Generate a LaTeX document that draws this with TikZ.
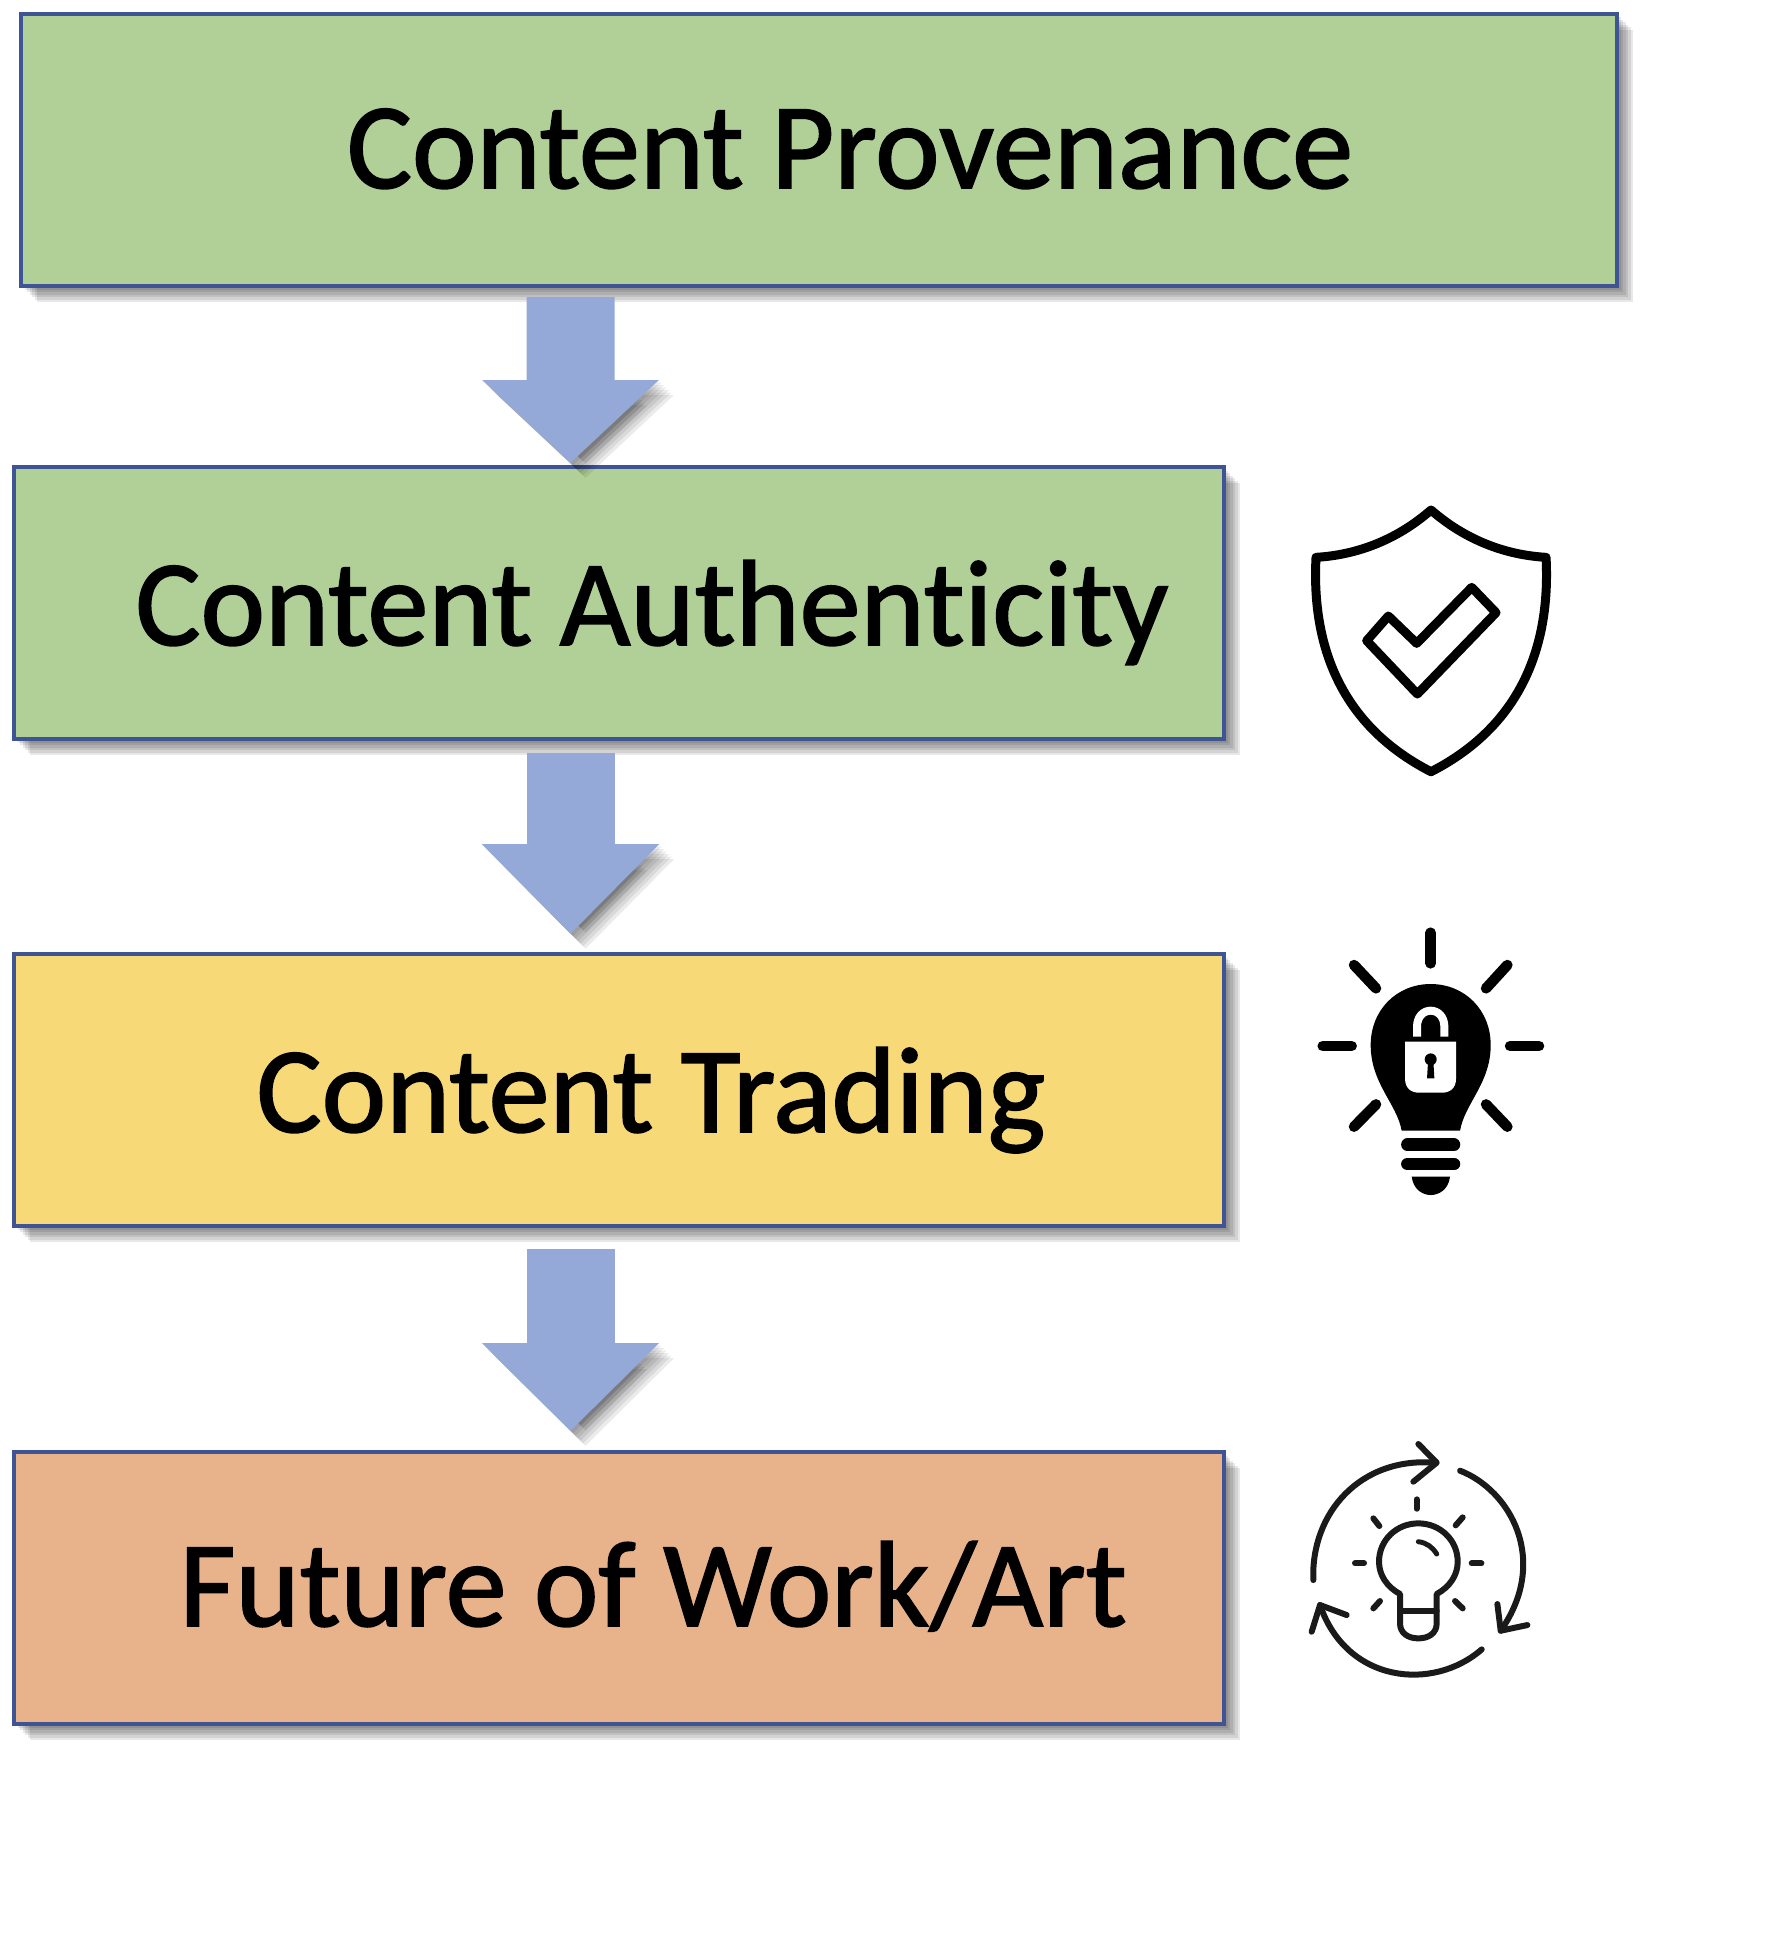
\documentclass[tikz,border=0pt]{standalone}
\usepackage{fontspec}
\setmainfont[Ligatures=NoCommon,FakeBold=1.4]{Carlito}
\usetikzlibrary{arrows.meta,positioning}
\definecolor{boxline}{HTML}{3E5494}
\definecolor{boxgreen}{HTML}{B1D097}
\definecolor{boxyellow}{HTML}{F8D977}
\definecolor{boxorange}{HTML}{E8B28A}
\definecolor{flowblue}{HTML}{94A9D8}
\definecolor{iconline}{HTML}{1A1A1A}

\begin{document}
\begin{tikzpicture}[
    boxlayer/.style={preaction={fill=black, draw=none, opacity=0.09, transform canvas={shift={(#1,-#1)}}}},
    arrowlayer/.style={preaction={draw=black, opacity=0.08, transform canvas={shift={(#1,-#1)}}}},
    flowbox/.style={draw=boxline, line width=0.09cm, minimum height=5.44cm, inner sep=0pt, outer sep=0pt,
        boxlayer=0.32, boxlayer=0.27, boxlayer=0.22, boxlayer=0.17, boxlayer=0.12, boxlayer=0.07},
    lbl/.style={anchor=base, inner sep=0pt, font=\fontsize{69.5}{80}\selectfont},
    flowarrow/.style={draw=flowblue, line width=1.76cm, -{Triangle[width=3.44cm,length=#1]},
        arrowlayer=0.3, arrowlayer=0.25, arrowlayer=0.2, arrowlayer=0.15, arrowlayer=0.1, arrowlayer=0.05},
    iconpen/.style={line width=0.18cm, line join=round, line cap=round}
]
\useasboundingbox (0,0) rectangle (35.8,-39.2);

% boxes
\node[flowbox, fill=boxgreen, minimum width=31.92cm, anchor=north west] (box1) at (0.42,-0.28) {};
\node[flowbox, fill=boxgreen, minimum width=24.2cm, below right=3.62cm and -0.14cm of box1.south west] (box2) {};
\node[flowbox, fill=boxyellow, minimum width=24.2cm, below=4.3cm of box2] (box3) {};
\node[flowbox, fill=boxorange, minimum width=24.2cm, below=4.52cm of box3] (box4) {};

% labels
\node[lbl, xshift=0.62cm, yshift=-0.76cm] (txt1) at (box1) {Content Provenance};
\node[lbl, xshift=0.66cm, yshift=-0.84cm] (txt2) at (box2) {Content Authenticity};
\node[lbl, xshift=0.64cm, yshift=-0.84cm] (txt3) at (box3) {Content Trading};
\node[lbl, xshift=0.68cm, yshift=-0.76cm] (txt4) at (box4) {Future of Work/Art};

% arrows
\draw[flowarrow=1.66cm] ([shift={(-4.97,-0.22)}]box1.south) -- ([shift={(-0.97,0.08)}]box2.north);
\draw[flowarrow=1.8cm] ([shift={(-0.97,-0.28)}]box2.south) -- ([shift={(-0.97,0.4)}]box3.north);
\draw[flowarrow=1.76cm] ([shift={(-0.97,-0.46)}]box3.south) -- ([shift={(-0.97,0.42)}]box4.north);

% shield
\begin{scope}[shift={(25.4,-9.6)}, x=0.006667cm, y=-0.006667cm]
\draw[iconpen] (483,90) .. controls (380,180) and (260,225) .. (138,232)
    .. controls (125,480) and (200,730) .. (483,875)
    .. controls (766,730) and (841,480) .. (828,232)
    .. controls (706,225) and (586,180) .. (483,90) -- cycle;
\draw[iconpen] (440,490) -- (355,408) -- (290,482) -- (442,642) -- (678,398) -- (605,322) -- cycle;
\end{scope}

% bulb with lock
\begin{scope}[shift={(25.8,-18.2)}, x=0.006667cm, y=-0.006667cm]
\draw[iconpen, line width=0.21cm] (422,68) -- (422,160);
\draw[iconpen, line width=0.21cm] (98,408) -- (185,408);
\draw[iconpen, line width=0.21cm] (660,408) -- (747,408);
\draw[iconpen, line width=0.21cm] (192,165) -- (258,235);
\draw[iconpen, line width=0.21cm] (652,165) -- (588,235);
\draw[iconpen, line width=0.21cm] (192,650) -- (258,583);
\draw[iconpen, line width=0.21cm] (652,650) -- (588,583);
\fill (335,662) .. controls (320,580) and (242,520) .. (242,405)
    .. controls (242,300) and (320,222) .. (422,222)
    .. controls (524,222) and (602,300) .. (602,405)
    .. controls (602,520) and (524,580) .. (510,662) -- cycle;
\draw[white, line width=0.16cm] (381,380) -- (381,350) .. controls (381,320) and (400,302) .. (422,302)
    .. controls (444,302) and (463,320) .. (463,350) -- (463,380);
\fill[white] (345,395) -- (498,395) -- (498,505) .. controls (498,535) and (480,548) .. (455,548)
    -- (388,548) .. controls (363,548) and (345,535) .. (345,505) -- cycle;
\fill (422,448) circle [x radius=18, y radius=18];
\fill (414,455) -- (430,455) -- (433,505) -- (411,505) -- cycle;
\draw[iconpen, line width=0.25cm] (352,704) -- (492,704);
\draw[iconpen, line width=0.25cm] (352,762) -- (492,762);
\fill (365,800) .. controls (370,840) and (400,855) .. (422,855)
    .. controls (445,855) and (475,840) .. (480,800) -- cycle;
\end{scope}

% bulb with cycle
\begin{scope}[shift={(25.8,-28.4)}, x=0.006667cm, y=-0.006667cm, iconline]
\draw[iconpen, line width=0.12cm] (70,480) .. controls (62,280) and (210,110) .. (435,128);
\draw[iconpen, line width=0.12cm] (385,72) -- (440,128) -- (370,185);
\draw[iconpen, line width=0.12cm] (510,152) .. controls (660,210) and (780,420) .. (632,632);
\draw[iconpen, line width=0.12cm] (622,552) -- (632,632) -- (712,615);
\draw[iconpen, line width=0.12cm] (575,688) .. controls (430,815) and (170,790) .. (90,555);
\draw[iconpen, line width=0.12cm] (170,585) -- (90,555) -- (65,635);
\draw[iconpen, line width=0.12cm] (330,522) .. controls (290,500) and (267,465) .. (267,425)
    .. controls (267,360) and (320,310) .. (385,310)
    .. controls (450,310) and (503,360) .. (503,425)
    .. controls (503,465) and (480,500) .. (440,522) -- (440,610)
    .. controls (440,640) and (415,655) .. (385,655)
    .. controls (355,655) and (330,640) .. (330,610) -- cycle;
\draw[iconpen, line width=0.12cm] (330,572) -- (440,572);
\draw[iconpen, line width=0.1cm] (385,365) .. controls (410,368) and (428,382) .. (440,402);
\draw[iconpen, line width=0.12cm] (380,238) -- (380,266);
\draw[iconpen, line width=0.12cm] (250,295) -- (268,318);
\draw[iconpen, line width=0.12cm] (518,292) -- (497,316);
\draw[iconpen, line width=0.12cm] (195,430) -- (222,430);
\draw[iconpen, line width=0.12cm] (545,430) -- (574,430);
\draw[iconpen, line width=0.12cm] (250,565) -- (270,543);
\draw[iconpen, line width=0.12cm] (518,565) -- (495,543);
\end{scope}
\end{tikzpicture}
\end{document}
